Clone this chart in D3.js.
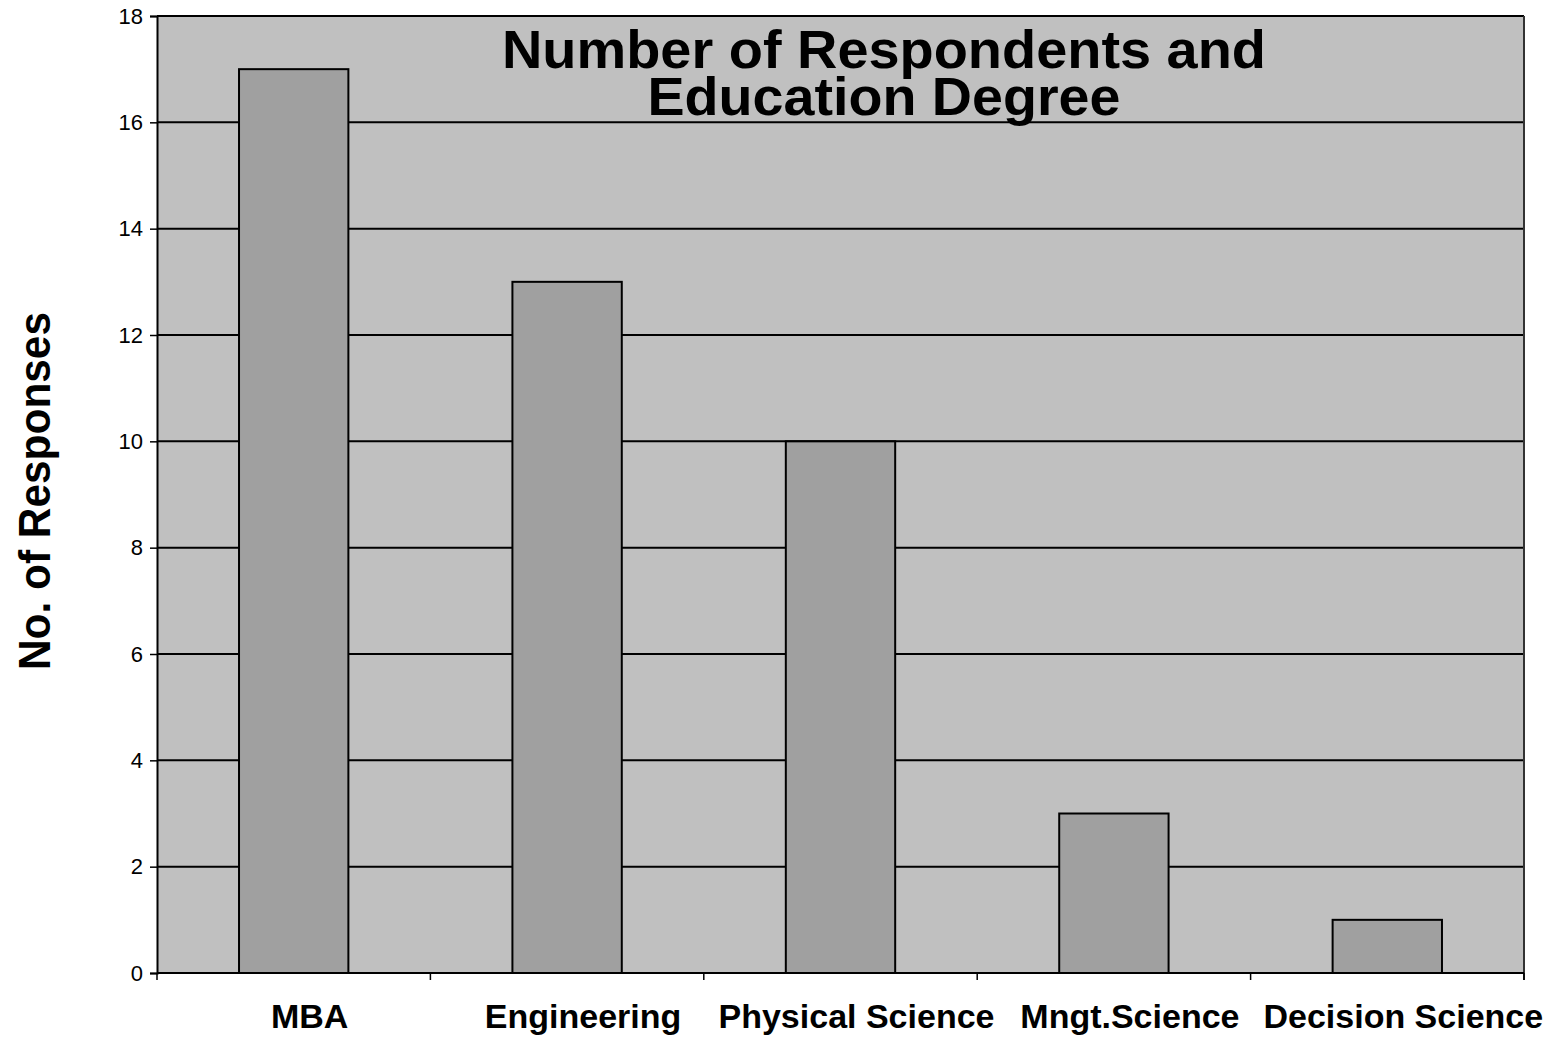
<!DOCTYPE html>
<html><head><meta charset="utf-8">
<script src="https://cdn.jsdelivr.net/npm/d3@7"></script>
<style>body{margin:0;background:#fff}svg{display:block}</style>
</head><body>
<svg id="c" width="1562" height="1038"></svg>
<script>
const categories = ["MBA","Engineering","Physical Science","Mngt.Science","Decision Science"];
const values = [17,13,10,3,1];
const yTicks = [0,2,4,6,8,10,12,14,16,18];
const titleLines = ["Number of Respondents and","Education Degree"];
const yLabel = "No. of Responses";

const svg = d3.select("#c");
const L=157,R=1524,T=16,B=973;
const x = d3.scaleBand().domain(categories).range([L,R]).paddingInner(0.6).paddingOuter(0.3);
const xb = d3.scaleBand().domain(categories).range([L,R]);
const y = d3.scaleLinear().domain([0,18]).range([B,T]);
const F="'Liberation Sans', Arial, sans-serif";

svg.append("rect").attr("x",L).attr("y",T).attr("width",R-L).attr("height",B-T).attr("fill","#c0c0c0");
svg.append("g").selectAll("line").data(yTicks.filter(d=>d>0)).join("line")
 .attr("x1",L).attr("x2",R).attr("y1",d=>y(d)).attr("y2",d=>y(d)).attr("stroke","#000").attr("stroke-width",2);
svg.append("line").attr("x1",R).attr("x2",R).attr("y1",T).attr("y2",B+7).attr("stroke","#333").attr("stroke-width",2);

svg.append("g").selectAll("rect").data(categories).join("rect")
 .attr("x",d=>x(d)).attr("width",x.bandwidth())
 .attr("y",(d,i)=>y(values[i])).attr("height",(d,i)=>B-y(values[i]))
 .attr("fill","#a0a0a0").attr("stroke","#000").attr("stroke-width",2);

// y axis
const ya = svg.append("g").attr("transform",`translate(${L},0)`)
 .call(d3.axisLeft(y).tickValues(yTicks).tickSize(7).tickPadding(7).tickFormat(d3.format("d")));
ya.select(".domain").attr("stroke","#000").attr("stroke-width",2);
ya.selectAll(".tick line").attr("stroke","#000").attr("stroke-width",1.5);
ya.selectAll("text").attr("font-family",F).attr("font-size",22).attr("fill","#000");

// x axis
const boundaries = categories.map(c=>xb(c)).concat([R]);
svg.append("line").attr("x1",L).attr("x2",R).attr("y1",B).attr("y2",B).attr("stroke","#000").attr("stroke-width",2);
svg.append("g").selectAll("line").data(boundaries).join("line")
 .attr("x1",d=>d).attr("x2",d=>d).attr("y1",B).attr("y2",B+7).attr("stroke","#000").attr("stroke-width",1.5);
svg.append("g").selectAll("text").data(categories).join("text")
 .attr("x",d=>xb(d)+xb.bandwidth()/2+16).attr("y",1028).attr("text-anchor","middle")
 .attr("font-family",F).attr("font-weight","bold").attr("font-size",34).text(d=>d);

// y label
svg.append("text").attr("transform","translate(50,491) rotate(-90)").attr("text-anchor","middle")
 .attr("font-family",F).attr("font-weight","bold").attr("font-size",44)
 .attr("textLength",358).attr("lengthAdjust","spacingAndGlyphs").text(yLabel);

// title
const tt = svg.append("text").attr("text-anchor","middle")
 .attr("font-family",F).attr("font-weight","bold").attr("font-size",54);
tt.selectAll("tspan").data(titleLines).join("tspan")
 .attr("x",884).attr("y",(d,i)=>68+i*47)
 .attr("textLength",(d,i)=>i===0?764:473).attr("lengthAdjust","spacingAndGlyphs").text(d=>d);
</script>
</body></html>
